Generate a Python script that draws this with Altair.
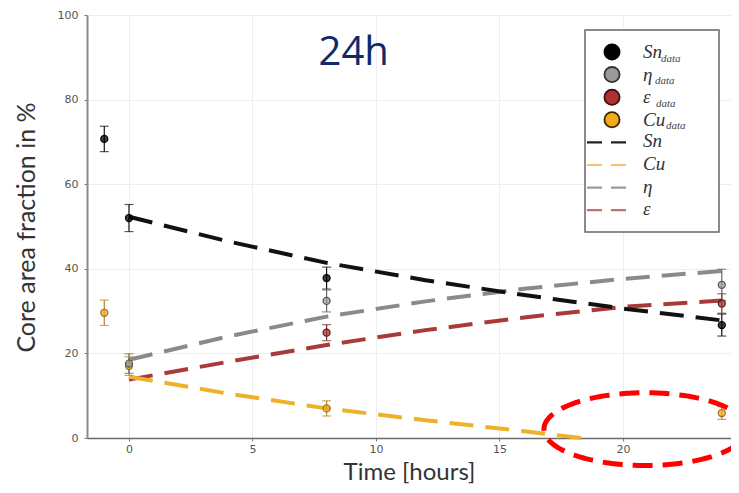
import altair as alt
import pandas as pd
import numpy as np

t_sn = [-1, 0, 8, 24]
sn = [70.7, 52.0, 37.8, 26.7]
sn_err = [3.0, 3.2, 2.6, 2.6]

t_eta = [0, 8, 24]
eta = [17.6, 32.4, 36.2]
eta_err = [2.3, 2.6, 3.7]

t_eps = [8, 24]
eps = [24.9, 31.8]
eps_err = [1.9, 2.3]

t_cu = [-1, 0, 8, 24]
cu = [29.6, 17.0, 7.0, 5.9]
cu_err = [3.0, 2.2, 1.8, 1.5]

# ---------------- model curves ----------------
t_model = [0, 4, 8, 12, 16, 20, 24]
sn_model = [52.3, 46.5, 41.4, 37.3, 33.8, 30.6, 27.8]
eta_model = [18.5, 24.0, 28.7, 32.3, 35.3, 37.6, 39.5]
eps_model = [13.8, 18.0, 22.0, 25.5, 28.5, 31.0, 32.5]
t_cu_model = [0, 4, 8, 12, 16, 18.3]
cu_model = [14.5, 10.5, 7.0, 4.2, 1.6, 0.0]

x_ticks = [0, 5, 10, 15, 20]
y_ticks = [0, 20, 40, 60, 80, 100]

# ---------------- styles ----------------
line_col = {"Sn": "#111111", "eta": "#8a8a8a", "eps": "#a83a3a", "Cu": "#eeb12a"}
pt_fill = {"Sn": "#000000", "eta": "#9a9a9a", "eps": "#b03030", "Cu": "#f2a91c"}
pt_stroke = {"Sn": "#000000", "eta": "#555555", "eps": "#5a1c1c", "Cu": "#9a7420"}
err_col = {"Sn": "#111111", "eta": "#666666", "eps": "#7a3030", "Cu": "#b8862a"}

# build tables
rows = []
for s, ts, vs, es in [("Cu", t_cu, cu, cu_err), ("Sn", t_sn, sn, sn_err),
                      ("eps", t_eps, eps, eps_err), ("eta", t_eta, eta, eta_err)]:
    for t, v, e in zip(ts, vs, es):
        rows.append({"series": s, "t": t, "v": v, "lo": v - e, "hi": v + e,
                     "fill": pt_fill[s], "stroke": pt_stroke[s], "ecol": err_col[s]})
meas = pd.DataFrame(rows)

mrows = []
for s, ts, vs in [("eps", t_model, eps_model), ("eta", t_model, eta_model),
                  ("Cu", t_cu_model, cu_model), ("Sn", t_model, sn_model)]:
    for t, v in zip(ts, vs):
        mrows.append({"series": s, "t": t, "v": v, "col": line_col[s]})
model = pd.DataFrame(mrows)

W, H = 644, 423
xs = alt.Scale(domain=[-1.7, -1.7 + W / 24.7], nice=False, zero=False)
ys = alt.Scale(domain=[0, 100], nice=False)

xaxis = alt.Axis(values=x_ticks, title="Time [hours]", labelFont="DejaVu Sans",
                 labelFontSize=11, labelColor="#555555", labelPadding=2,
                 domainColor="#6a6a6a", domainWidth=1.5, tickColor="#777777",
                 tickSize=3, gridColor="#eeeeee", titleFont="Lato",
                 titleFontSize=24, titleFontWeight="normal", titleColor="#333333",
                 titleBaseline="alphabetic", titleY=41)
yaxis = alt.Axis(values=y_ticks, title="Core area fraction in %", labelFont="DejaVu Sans",
                 labelFontSize=11, labelColor="#555555", labelPadding=6,
                 domainColor="#8a8a8a", domainWidth=2, tickColor="#777777",
                 tickSize=3, gridColor="#eeeeee", titleFont="Lato",
                 titleFontSize=25, titleFontWeight="normal", titleColor="#333333",
                 titleBaseline="alphabetic", titleX=-53, titleY=212, titleAngle=-90)

base_m = alt.Chart(model)
lines = base_m.mark_line(strokeWidth=4, strokeDash=[24, 12], strokeCap="butt").encode(
    x=alt.X("t:Q", scale=xs, axis=xaxis),
    y=alt.Y("v:Q", scale=ys, axis=yaxis),
    color=alt.Color("col:N", scale=None),
    detail="series:N",
)

base = alt.Chart(meas)
ebar = base.mark_rule(strokeWidth=1.2).encode(
    x=alt.X("t:Q", scale=xs), y=alt.Y("lo:Q", scale=ys), y2="hi:Q",
    color=alt.Color("ecol:N", scale=None))
cap_lo = base.mark_tick(orient="horizontal", size=9, thickness=1.2).encode(
    x=alt.X("t:Q", scale=xs), y=alt.Y("lo:Q", scale=ys),
    color=alt.Color("ecol:N", scale=None))
cap_hi = base.mark_tick(orient="horizontal", size=9, thickness=1.2).encode(
    x=alt.X("t:Q", scale=xs), y=alt.Y("hi:Q", scale=ys),
    color=alt.Color("ecol:N", scale=None))
pts = base.mark_point(filled=True, shape="circle", size=50, strokeWidth=1.2,
                      fillOpacity=0.75).encode(
    x=alt.X("t:Q", scale=xs), y=alt.Y("v:Q", scale=ys),
    fill=alt.Fill("fill:N", scale=None), stroke=alt.Stroke("stroke:N", scale=None))

title = alt.Chart(pd.DataFrame({"t": [9.1], "v": [88.2], "txt": ["24h"]})).mark_text(
    font="Open Sans", fontSize=40, fontWeight=500, color="#10296b",
    baseline="alphabetic", align="center"
).encode(x=alt.X("t:Q", scale=xs), y=alt.Y("v:Q", scale=ys), text="txt:N")

# highlight ellipse annotation
ell_cx, ell_cy, ell_rx, ell_ry = 20.9, 2.1, 4.1, 8.6
th = np.linspace(0, 2 * np.pi, 241)
ell = pd.DataFrame({"t": ell_cx + ell_rx * np.cos(th), "v": ell_cy + ell_ry * np.sin(th),
                    "i": np.arange(len(th))})
ellipse = alt.Chart(ell).mark_line(color="#ff0000", strokeWidth=5, strokeDash=[20, 10],
                                   clip=False).encode(
    x=alt.X("t:Q", scale=xs), y=alt.Y("v:Q", scale=ys), order="i:Q")

data_layer = alt.layer(lines, ebar, cap_lo, cap_hi, pts, title, ellipse)

# ---------------- legend (drawn by hand for subscripts) ----------------
lg_x0, lg_x1, lg_y0, lg_y1 = 498, 632, 15, 217
row0, step = 37, 22.6
box = alt.Chart(pd.DataFrame({"a": [lg_x0], "b": [lg_x1], "c": [lg_y0], "d": [lg_y1]})).mark_rect(
    fill="white", stroke="#666666", strokeWidth=1.5).encode(
    x=alt.X("a:Q", scale=None, axis=None), x2="b:Q",
    y=alt.Y("c:Q", scale=None, axis=None), y2="d:Q")

leg_pts_series = ["Sn", "eta", "eps", "Cu"]
leg_pts_label = ["Sn", "η", "ε", "Cu"]
sub_dx = [18, 12, 13, 23]
lp = pd.DataFrame({
    "px": [525] * 4,
    "py": [row0 + i * step for i in range(4)],
    "fill": [pt_fill[s] for s in leg_pts_series],
    "stroke": ["#000000", "#333333", "#3a1010", "#3a2a00"],
    "label": leg_pts_label,
    "lx": [556] * 4,
    "ly": [row0 + i * step + 6 for i in range(4)],
    "sx": [556 + d for d in sub_dx],
    "sy": [row0 + i * step + 9.5 for i in range(4)],
    "sub": ["data"] * 4,
})
leg_circ = alt.Chart(lp).mark_point(filled=True, shape="circle", size=230, strokeWidth=1.8,
                                    fillOpacity=1).encode(
    x=alt.X("px:Q", scale=None, axis=None), y=alt.Y("py:Q", scale=None, axis=None),
    fill=alt.Fill("fill:N", scale=None), stroke=alt.Stroke("stroke:N", scale=None))
leg_txt = alt.Chart(lp).mark_text(font="Liberation Serif", fontStyle="italic", fontSize=19,
                                  color="#333333", align="left", baseline="alphabetic").encode(
    x=alt.X("lx:Q", scale=None, axis=None), y=alt.Y("ly:Q", scale=None, axis=None), text="label:N")
leg_sub = alt.Chart(lp).mark_text(font="Liberation Serif", fontStyle="italic", fontSize=11,
                                  color="#444444", align="left", baseline="alphabetic").encode(
    x=alt.X("sx:Q", scale=None, axis=None), y=alt.Y("sy:Q", scale=None, axis=None), text="sub:N")

leg_line_label = ["Sn", "Cu", "η", "ε"]
leg_line_col = ["#222222", "#f5c46a", "#9a9a9a", "#c07070"]
ll = pd.DataFrame({
    "a": [500] * 4, "b": [544] * 4,
    "py": [row0 + (i + 4) * step for i in range(4)],
    "col": leg_line_col,
    "label": leg_line_label,
    "lx": [556] * 4,
    "ly": [row0 + (i + 4) * step + 5 for i in range(4)],
})
leg_lines = alt.Chart(ll).mark_rule(strokeWidth=2.2, strokeDash=[15, 9]).encode(
    x=alt.X("a:Q", scale=None, axis=None), x2="b:Q",
    y=alt.Y("py:Q", scale=None, axis=None), color=alt.Color("col:N", scale=None))
leg_ltxt = alt.Chart(ll).mark_text(font="Liberation Serif", fontStyle="italic", fontSize=19,
                                   color="#333333", align="left", baseline="alphabetic").encode(
    x=alt.X("lx:Q", scale=None, axis=None), y=alt.Y("ly:Q", scale=None, axis=None), text="label:N")

legend_layer = alt.layer(box, leg_circ, leg_txt, leg_sub, leg_lines, leg_ltxt)

chart = alt.layer(data_layer, legend_layer).resolve_scale(
    x="independent", y="independent", color="independent", fill="independent",
    stroke="independent"
).properties(
    width=W, height=H,
    autosize=alt.AutoSizeParams(type="none"),
    padding={"left": 79, "top": 7, "right": 0, "bottom": 47},
    background="white",
).configure_view(stroke=None)

chart.save("out.html", embed_options={"renderer": "svg", "actions": False})
